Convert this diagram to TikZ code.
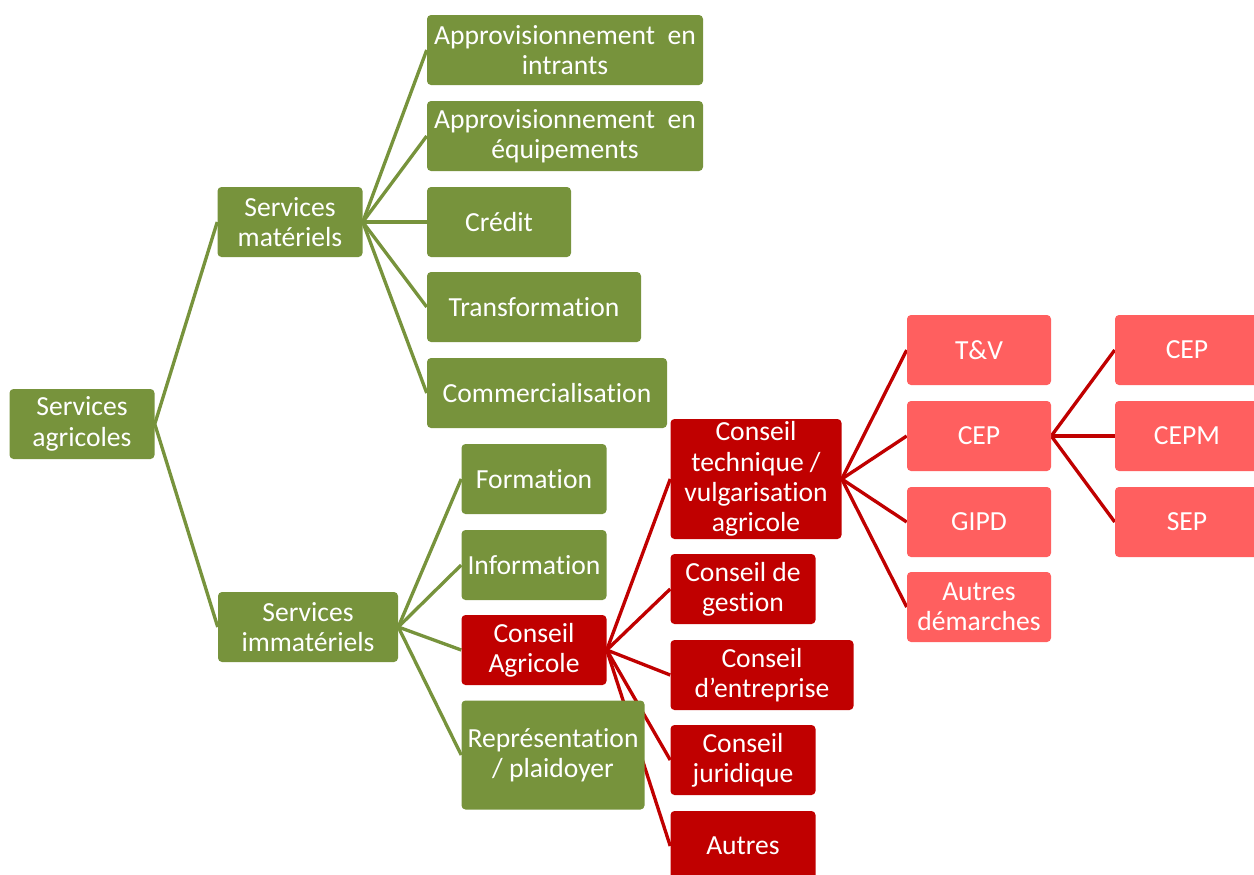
\documentclass[tikz,border=0pt]{standalone}
\usepackage{fontspec}
\setmainfont{Carlito}[Ligatures=NoCommon]
\usetikzlibrary{backgrounds}

\definecolor{vert}{HTML}{77933C}
\definecolor{rouge}{HTML}{C00000}
\definecolor{rose}{HTML}{FF5F5F}

\tikzset{
    boite/.style={rounded corners=3pt, text=white, align=center, inner sep=1pt,
        minimum height=52.5pt, font=\fontsize{20.7}{22.7}\selectfont},
    gbox/.style={boite, fill=vert},
    rbox/.style={boite, fill=rouge},
    pbox/.style={boite, fill=rose},
    glien/.style={draw=vert, line width=2.5pt},
    rlien/.style={draw=rouge, line width=2.5pt}
}

\begin{document}
\begin{tikzpicture}[x=0.75pt,y=-0.75pt]

\useasboundingbox (0,0) rectangle (1254,875);

% ===== Niveau 1 et 2 =====
\node[gbox, minimum width=108.75pt] (agri) at (82,424) {Services\\agricoles};
\node[gbox, minimum width=108.75pt] (mat) at (290,222) {Services\\matériels};
\node[gbox, minimum width=135pt] (imm) at (308,627) {Services\\immatériels};

% ===== Services matériels =====
\node[gbox, minimum width=207pt] (intr) at (565,50) {Approvisionnement\ \ en\\intrants};
\node[gbox, minimum width=207pt] (equip) at (565,136) {Approvisionnement\ \ en\\équipements};
\node[gbox, minimum width=108pt] (credit) at (499,222) {Crédit};
\node[gbox, minimum width=160.5pt] (transf) at (534,307) {Transformation};
\node[gbox, minimum width=180pt] (comm) at (547,393) {Commercialisation};

% ===== Services immatériels =====
\node[gbox, minimum width=108.75pt] (form) at (534,479) {Formation};
\node[gbox, minimum width=108.75pt] (info) at (534,565) {Information};
\node[rbox, minimum width=108.75pt] (cagri) at (534,650) {Conseil\\Agricole};
\node[gbox, minimum width=137.25pt, minimum height=81.75pt] (repr) at (553,755) {Représentation\\/ plaidoyer};

% ===== Conseil agricole =====
\node[rbox, minimum width=128.25pt, minimum height=90pt] (ctech) at (756,479) {Conseil\\technique /\\vulgarisation\\agricole};
\node[rbox, minimum width=108.75pt] (cgest) at (743,589) {Conseil de\\gestion};
\node[rbox, minimum width=137.25pt] (centr) at (762,675) {Conseil\\d’entreprise};
\node[rbox, minimum width=108.75pt] (cjur) at (743,760) {Conseil\\juridique};
\node[rbox, minimum width=108.75pt] (autres) at (743,846) {Autres};

% ===== Démarches =====
\node[pbox, minimum width=108pt] (tv) at (979,350) {T\&V};
\node[pbox, minimum width=108pt] (cep) at (979,436) {CEP};
\node[pbox, minimum width=108pt] (gipd) at (979,522) {GIPD};
\node[pbox, minimum width=108pt] (autdem) at (979,607) {Autres\\démarches};

\node[pbox, minimum width=108pt] (cepa) at (1187,350) {CEP};
\node[pbox, minimum width=108pt] (cepm) at (1187,436) {CEPM};
\node[pbox, minimum width=108pt] (sep) at (1187,522) {SEP};

% ===== Liens =====
\begin{pgfonlayer}{background}
\foreach \a/\b in {agri/mat, agri/imm, mat/intr, mat/equip, mat/credit, mat/transf, mat/comm,
                   imm/form, imm/info, imm/cagri, imm/repr} {
    \draw[glien] (\a.east) -- (\b.west);
}
\foreach \a/\b in {cagri/ctech, cagri/cgest, cagri/centr, cagri/cjur, cagri/autres,
                   ctech/tv, ctech/cep, ctech/gipd, ctech/autdem,
                   cep/cepa, cep/cepm, cep/sep} {
    \draw[rlien] (\a.east) -- (\b.west);
}
\end{pgfonlayer}

\end{tikzpicture}
\end{document}
